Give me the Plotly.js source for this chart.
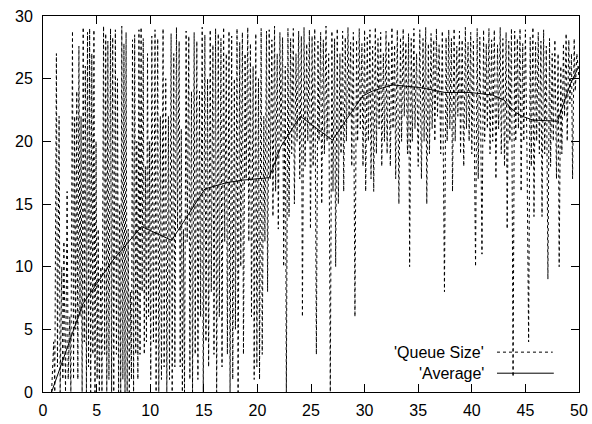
<!DOCTYPE html>
<html>
<head>
<meta charset="utf-8">
<script src="https://cdn.plot.ly/plotly-3.0.1.min.js"></script>
<style>html,body{margin:0;padding:0;background:#fff;}#chart{width:592px;height:424px;}</style>
</head>
<body>
<div id="chart"></div>
<script>
// Queue size samples (time, size)
var queueX = [0.8,1.0,1.1,1.25,1.35,1.5,1.6,1.75,1.85,1.95,2.1,2.25,2.35,2.5,2.6,
2.75,2.85,2.95,3.05,3.15,3.25,3.35,3.45,3.55,3.65,3.75,3.85,3.95,4.05,4.15,4.25,4.35,4.45,4.55,4.65,4.75,4.85,4.95,5.05,5.15,5.25,5.4,5.5,5.65,5.75,5.85,5.95,6.05,6.15,6.3,6.4,
6.5,6.6,6.75,6.85,6.95,7.05,7.15,7.25,7.35,7.45,7.55,7.65,7.75,7.85,7.95,8.05,8.15,8.25,8.35,8.45,8.55,8.65,8.75,8.85,8.95,
9.05,9.15,9.25,9.35,9.45,9.55,9.65,9.75,9.85,9.95,10.05,10.15,10.3,10.45,10.55,
10.7,10.8,10.95,11.05,11.2,11.3,11.45,11.55,11.7,11.8,11.95,12.05,
12.2,12.3,12.45,12.55,12.7,12.8,12.9,13.0,13.1,13.2,13.35,13.45,13.6,13.7,13.85,13.95,
14.1,14.2,14.35,14.45,14.6,14.7,14.85,14.95,15.1,15.2,15.35,15.45,15.6,15.7,15.85,15.95,16.1,16.2,16.35,16.45,16.6,16.7,16.85,16.95,17.1,17.2,17.35,17.45,17.6,17.7,17.85,17.95,18.1,18.2,18.35,18.45,18.6,18.7,18.85,18.95,19.1,19.2,19.35,19.45,19.6,19.7,19.85,19.95,20.1,20.2,20.35,20.45,20.6,20.7,20.85,
20.95,21.1,21.2,21.35,21.45,21.6,21.7,21.85,21.95,22.1,22.2,22.35,22.45,22.6,22.7,22.85,22.95,
23.1,23.2,23.35,23.45,23.6,23.7,23.85,23.95,24.1,24.2,24.35,24.45,24.6,24.7,24.85,24.95,
25.1,25.2,25.35,25.5,25.65,25.75,25.9,26.0,26.15,26.25,26.4,26.5,26.65,26.8,26.95,
27.05,27.2,27.3,27.45,27.55,27.7,27.8,27.95,28.05,28.2,28.3,28.45,28.55,28.7,28.8,28.95,29.1,29.25,29.35,29.5,29.6,29.75,29.85,30.0,
30.1,30.25,30.35,30.5,30.6,30.75,30.85,31.0,31.1,31.25,31.35,31.5,31.6,31.75,31.85,
32.0,32.1,32.25,32.4,32.55,32.65,32.8,32.9,33.05,33.2,33.35,33.45,33.6,33.7,33.85,34.0,34.1,34.2,34.35,34.45,34.6,34.7,34.85,
35.0,35.15,35.3,35.45,35.55,35.7,35.8,35.95,36.05,36.2,36.3,36.45,36.55,36.7,36.8,36.95,37.1,37.25,37.45,37.6,37.7,37.85,37.95,
38.1,38.2,38.35,38.45,38.6,38.7,38.85,38.95,39.1,39.25,39.4,39.5,39.65,39.75,39.9,40.0,40.15,40.35,40.5,40.6,40.75,40.95,41.1,41.2,41.35,41.45,41.6,
41.7,41.85,41.95,42.1,42.25,42.4,42.5,42.65,42.75,42.9,43.05,43.2,43.3,43.45,43.55,43.7,43.85,44.0,
44.1,44.25,44.35,44.5,44.6,44.75,44.85,45.0,45.15,45.3,45.45,45.55,45.7,45.8,45.95,46.05,
46.2,46.3,46.45,46.55,46.7,46.8,46.95,47.1,47.25,47.35,47.5,47.6,47.75,47.9,48.05,48.15,48.3,48.4,48.55,48.65,48.8,48.9,49.05,49.15,49.3,49.4,49.55,49.65,49.8,49.9,50.0];
var queueY = [0,4,0,27,2,22,0,10,1,12,0,16,1,6,0,
28.8,1,22,5,24,1,27.6,6,22,0,29.1,4,26,0,28.7,2,29,0,27,3,28.9,0,20,1,13,0,10,0,29.2,3,28.6,0,28,1,29,0,
28.3,0,28.9,3,25,0,15,0,29.2,1,27.8,0,28.7,0,13,0,8,1,28.1,0,28.5,3,20,1,28.9,
3,29.1,8,28.2,3,18,4,27,6,20,1,28.4,4,28.9,0,
28.2,0,22,1,29,2,25,0,22,1,28.6,0,
27,2,29.1,13,28,2,21,0,13,0,28.8,12,28.4,1,24,0,
28.7,3,28,1,24,6,29.1,0,28.5,4,25,2,28.9,8,27.7,3,29,0,28.6,6,28.2,2,29.1,12,27,3,28.8,0,28.4,1,25,5,29,0,27.9,10,28.7,3,27,17,29.1,12,27.8,6,26,1,28.6,2,25,1,29,3,22,12,28.8,
8,28.9,17,28.1,14,29.2,16,27,13,28.7,20,28.3,10,26,0,29,14,
28.2,19,29,15,27,20,28.8,17,28.4,6,29.1,18,27.8,20,28.9,13,
28.4,18,29,3,28,20,28.7,15,28.1,19,29.2,20,27,0,28.8,
16,28.2,10,29,15,27,19,28.8,16,28.3,20,29.1,22,27.9,18,28.7,6,28.1,20,29,21,27.8,18,28.9,
16,28.3,20,28.9,17,27.6,16,29.1,19,28.2,21,28.7,18,27,20,
28.8,19,28,18,29.1,21,27.7,17,28.9,15,28.3,20,29,22,27.9,19,28.6,10,28.2,20,29,21,27,
18,28.9,17,28.2,20,29.1,15,27.8,19,28.6,21,28.1,20,29,22,27.7,19,28.8,8,28.3,20,28.9,21,
28.2,16,29,20,27.6,22,28.8,19,28.1,18,29.1,21,27.9,20,28.7,19,28,10,29,17,28.3,11,28.9,20,27.8,21,29,
19,28.1,20,28.9,17,27.7,21,29.1,19,28.2,18,28.7,13,28,20,29,1.2,28.8,
20,28.2,21,29,16,27.8,20,28.9,19,4,28.3,18,29.1,14,27.9,20,
28.7,19,28,14,28.9,19,27.6,9,28.2,18,27,20,28.1,17,27,10,26,19,27.8,22,28.6,20,28.1,23,27,17,28.2,24,27,26,25];

// Running average
var avgX = [0.8,3.7,6.5,9.2,12.0,15.1,17.1,18.6,21.1,22.2,24.0,27.0,29.8,30.7,32.6,35.1,37.5,39.8,41.9,43.0,43.5,44.1,44.7,45.7,48.0,49.2,50.0];
var avgY = [0,7.0,10.5,13.2,12.1,16.2,16.7,16.9,17.1,19.6,22.0,20.1,23.6,24.0,24.5,24.3,23.9,23.9,23.7,23.3,22.8,22.3,22.0,21.7,21.6,24.6,26.0];

var xTicks = [0,5,10,15,20,25,30,35,40,45,50];
var yTicks = [0,5,10,15,20,25,30];
var seriesNames = ["'Queue Size'", "'Average'"];

var font = {family: 'Liberation Sans, Arial, Helvetica, sans-serif', size: 16, color: '#000'};

var traces = [
  {x: queueX, y: queueY, type: 'scatter', mode: 'lines', name: seriesNames[0],
   line: {color: '#000', width: 1, dash: '3px,3px'}, showlegend: false},
  {x: avgX, y: avgY, type: 'scatter', mode: 'lines', name: seriesNames[1],
   line: {color: '#000', width: 1}, showlegend: false}
];

var axisCommon = {
  showline: true, linecolor: '#000', linewidth: 1, mirror: 'ticks',
  ticks: 'inside', ticklen: 8, tickwidth: 1, tickcolor: '#000',
  showgrid: false, zeroline: false, tickfont: font, tickmode: 'array'
};

var layout = {
  width: 592, height: 424,
  margin: {l: 43, r: 13, t: 16, b: 32, pad: 0},
  paper_bgcolor: '#fff', plot_bgcolor: '#fff',
  font: font,
  showlegend: false,
  xaxis: Object.assign({}, axisCommon, {range: [0, 50], tickvals: xTicks, ticktext: xTicks.map(String), ticklabelstandoff: 4}),
  yaxis: Object.assign({}, axisCommon, {range: [0, 30], tickvals: yTicks, ticktext: yTicks.map(String), ticklabelstandoff: 6}),
  annotations: [
    {xref: 'paper', yref: 'paper', x: 0.826, y: 0.106, xanchor: 'right', yanchor: 'middle',
     text: seriesNames[0], showarrow: false, font: font},
    {xref: 'paper', yref: 'paper', x: 0.826, y: 0.050, xanchor: 'right', yanchor: 'middle',
     text: seriesNames[1], showarrow: false, font: font}
  ],
  shapes: [
    {type: 'line', xref: 'paper', yref: 'paper', x0: 0.847, x1: 0.951, y0: 0.106, y1: 0.106,
     line: {color: '#000', width: 1, dash: '3px,3px'}},
    {type: 'line', xref: 'paper', yref: 'paper', x0: 0.847, x1: 0.953, y0: 0.050, y1: 0.050,
     line: {color: '#000', width: 1}}
  ]
};

Plotly.newPlot('chart', traces, layout, {staticPlot: true, displayModeBar: false});
</script>
</body>
</html>
